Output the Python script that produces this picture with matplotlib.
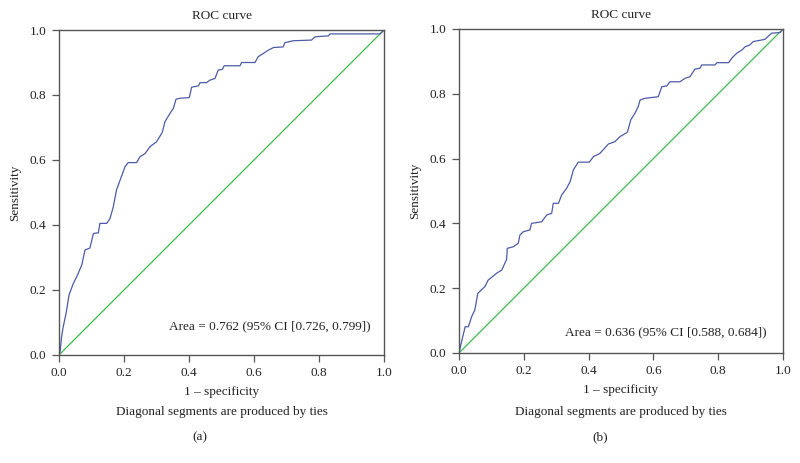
import matplotlib
matplotlib.use('Agg')
import matplotlib.pyplot as plt

OUTPUT_PATH = 'out.png'

TICKS = [0.0, 0.2, 0.4, 0.6, 0.8, 1.0]
TICK_LABELS = ['0.0', '0.2', '0.4', '0.6', '0.8', '1.0']

# panel (a): 1 - specificity / sensitivity
fpr_a = [0.0, 0.003, 0.008, 0.013, 0.022, 0.031, 0.044, 0.057, 0.07, 0.08, 0.095,
         0.106, 0.121, 0.126, 0.147, 0.157, 0.167, 0.177, 0.188, 0.203, 0.213,
         0.239, 0.249, 0.265, 0.28, 0.3, 0.316, 0.318, 0.326, 0.342, 0.352, 0.36,
         0.372, 0.401, 0.408, 0.429, 0.434, 0.454, 0.465, 0.48, 0.49, 0.503, 0.508,
         0.557, 0.562, 0.603, 0.613, 0.629, 0.644, 0.66, 0.69, 0.695, 0.721,
         0.777, 0.788, 0.829, 0.834, 0.988, 1.0]
tpr_a = [0.0, 0.006, 0.056, 0.087, 0.129, 0.185, 0.22, 0.246, 0.277, 0.323, 0.329,
         0.374, 0.376, 0.405, 0.405, 0.42, 0.456, 0.508, 0.538, 0.579, 0.592,
         0.592, 0.61, 0.62, 0.641, 0.656, 0.682, 0.686, 0.718, 0.744, 0.759, 0.787,
         0.79, 0.792, 0.824, 0.828, 0.838, 0.838, 0.846, 0.851, 0.877, 0.879, 0.89,
         0.89, 0.9, 0.9, 0.918, 0.928, 0.938, 0.946, 0.948, 0.961, 0.967,
         0.969, 0.979, 0.982, 0.988, 0.988, 1.0]

# panel (b)
fpr_b = [0.0, 0.008, 0.019, 0.029, 0.039, 0.049, 0.058, 0.08, 0.09, 0.116, 0.132,
         0.147, 0.149, 0.168, 0.183, 0.188, 0.198, 0.219, 0.224, 0.255, 0.271,
         0.286, 0.291, 0.307, 0.317, 0.332, 0.343, 0.353, 0.368, 0.402, 0.415,
         0.435, 0.461, 0.481, 0.497, 0.518, 0.52, 0.53, 0.543, 0.553, 0.559, 0.574,
         0.615, 0.626, 0.641, 0.651, 0.682, 0.698, 0.713, 0.728, 0.744, 0.749,
         0.79, 0.796, 0.832, 0.842, 0.857, 0.873, 0.883, 0.898, 0.908, 0.944,
         0.958, 0.965, 0.991, 1.0]
tpr_b = [0.0, 0.035, 0.081, 0.081, 0.112, 0.133, 0.184, 0.205, 0.225, 0.246, 0.256,
         0.289, 0.323, 0.328, 0.339, 0.364, 0.374, 0.38, 0.4, 0.405, 0.426,
         0.431, 0.462, 0.462, 0.488, 0.508, 0.529, 0.565, 0.589, 0.589, 0.606,
         0.616, 0.645, 0.652, 0.668, 0.68, 0.683, 0.719, 0.74, 0.76, 0.781, 0.786,
         0.791, 0.822, 0.824, 0.837, 0.837, 0.848, 0.853, 0.876, 0.879, 0.889,
         0.889, 0.896, 0.896, 0.91, 0.925, 0.935, 0.945, 0.951, 0.961, 0.968,
         0.981, 0.987, 0.989, 1.0]

area_a = 'Area = 0.762 (95% CI [0.726, 0.799])'
area_b = 'Area = 0.636 (95% CI [0.588, 0.684])'

CURVE_COLOR = '#4c5ba6'
DIAG_COLOR = '#3dbb4a'
SPINE_COLOR = '#555555'
TEXT_COLOR = '#222222'
FONT = 'Liberation Serif'


def draw_panel(fig, rect, fpr, tpr, area_text, area_pos, letter, letter_x):
    ax = fig.add_axes(rect)
    ax.plot([0, 1], [0, 1], color=DIAG_COLOR, lw=0.9)
    ax.plot(fpr, tpr, color=CURVE_COLOR, lw=0.9)

    ax.set_xlim(0, 1)
    ax.set_ylim(0, 1)
    ax.set_xticks(TICKS, TICK_LABELS)
    ax.set_yticks(TICKS, TICK_LABELS)
    ax.tick_params(direction='out', length=5, width=0.9, color=SPINE_COLOR,
                   labelsize=9.5, labelcolor=TEXT_COLOR, pad=4)
    for spine in ax.spines.values():
        spine.set_color(SPINE_COLOR)
        spine.set_linewidth(1.0)

    ax.set_title('ROC curve', fontsize=9.5, color=TEXT_COLOR, pad=8)
    ax.set_ylabel('Sensitivity', fontsize=9.5, color=TEXT_COLOR, labelpad=6)
    ax.set_xlabel('1 \u2013 specificity', fontsize=9.5, color=TEXT_COLOR, labelpad=5)

    ax.text(area_pos[0], area_pos[1], area_text, transform=ax.transAxes,
            ha='right', va='center', fontsize=9.5, color=TEXT_COLOR)

    x_mid = rect[0] + rect[2] / 2
    fig.text(x_mid, 1 - 411.5 / 463, 'Diagonal segments are produced by ties',
             ha='center', va='center', fontsize=9.5, color=TEXT_COLOR)
    fig.text(letter_x, 1 - 437 / 463, letter, ha='center', va='center',
             fontsize=9.5, color=TEXT_COLOR)
    return ax


def main() -> None:
    plt.rcParams['font.family'] = [FONT, 'DejaVu Serif']
    fig = plt.figure(figsize=(8, 4.63), dpi=100)

    draw_panel(fig, [0.07375, 0.2333, 0.40625, 0.7019], fpr_a, tpr_a,
               area_a, (0.96, 0.089), '(a)', 0.25)
    draw_panel(fig, [0.57375, 0.2376, 0.405, 0.6998], fpr_b, tpr_b,
               area_b, (0.948, 0.063), '(b)', 0.75)

    fig.savefig(OUTPUT_PATH, dpi=100, facecolor='white')
    plt.close(fig)


if __name__ == '__main__':
    main()
